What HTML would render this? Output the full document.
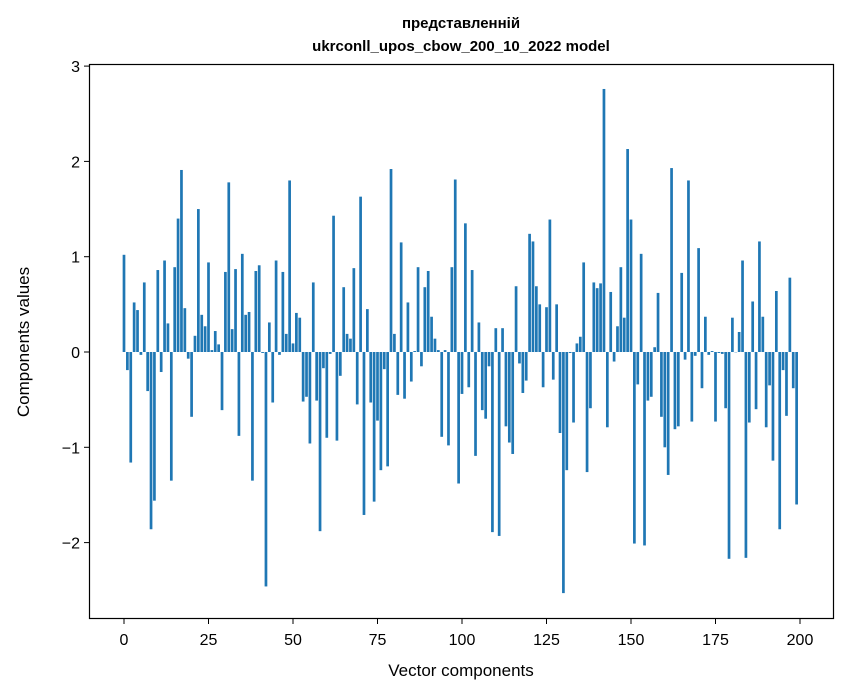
<!DOCTYPE html>
<html><head><meta charset="utf-8"><style>
html,body{margin:0;padding:0;background:#fff;}
svg{display:block;font-family:"Liberation Sans","DejaVu Sans",sans-serif;}
</style></head><body>
<svg id="chart" width="847" height="696" viewBox="0 0 847 696" xmlns="http://www.w3.org/2000/svg">
<rect width="847" height="696" fill="#fff"/>
<text x="461" y="28" text-anchor="middle" font-size="15" font-weight="bold">представленній</text>
<text x="461" y="51" text-anchor="middle" font-size="15" font-weight="bold">ukrconll_upos_cbow_200_10_2022 model</text>
<g id="bars"></g>
<rect x="89.5" y="64.5" width="744" height="554" fill="none" stroke="#000" stroke-width="1.2"/>
<g id="xticks"></g>
<g id="yticks"></g>
<text x="461" y="676" text-anchor="middle" font-size="17">Vector components</text>
<text x="0" y="0" transform="translate(29,342) rotate(-90)" text-anchor="middle" font-size="17">Components values</text>
</svg>
<script>
const values = [1.02,-0.19,-1.16,0.52,0.44,-0.03,0.73,-0.41,-1.86,-1.56,
0.86,-0.21,0.96,0.30,-1.35,0.89,1.40,1.91,0.46,-0.07,
-0.68,0.17,1.50,0.39,0.27,0.94,0.02,0.22,0.08,-0.61,
0.84,1.78,0.24,0.87,-0.88,1.03,0.39,0.42,-1.35,0.85,
0.91,-0.01,-2.46,0.31,-0.53,0.96,-0.03,0.84,0.19,1.80,
0.09,0.41,0.36,-0.52,-0.47,-0.96,0.73,-0.51,-1.88,-0.17,
-0.90,-0.02,1.43,-0.93,-0.25,0.68,0.19,0.14,0.88,-0.55,
1.63,-1.71,0.45,-0.53,-1.57,-0.72,-1.24,-0.18,-1.20,1.92,
0.19,-0.45,1.15,-0.49,0.52,-0.31,0.01,0.89,-0.15,0.68,
0.85,0.37,0.14,0.02,-0.89,0.02,-0.98,0.89,1.81,-1.38,
-0.44,1.35,-0.37,0.86,-1.09,0.31,-0.61,-0.70,-0.15,-1.89,
0.25,-1.93,0.25,-0.78,-0.95,-1.07,0.69,-0.12,-0.43,-0.30,
1.24,1.16,0.69,0.50,-0.37,0.47,1.39,-0.29,0.50,-0.85,
-2.53,-1.24,-0.01,-0.74,0.09,0.16,0.94,-1.26,-0.59,0.73,
0.67,0.72,2.76,-0.79,0.63,-0.10,0.27,0.89,0.36,2.13,
1.39,-2.01,-0.34,1.03,-2.03,-0.51,-0.47,0.05,0.62,-0.68,
-1.00,-1.29,1.93,-0.81,-0.78,0.83,-0.08,1.80,-0.73,-0.04,
1.09,-0.38,0.37,-0.03,0.01,-0.73,-0.01,-0.02,-0.59,-2.17,
0.36,0.00,0.21,0.96,-2.16,-0.74,0.53,-0.60,1.16,0.37,
-0.79,-0.35,-1.14,0.64,-1.86,-0.19,-0.67,0.78,-0.38,-1.60];
const xTicks = [0,25,50,75,100,125,150,175,200];
const yTicks = [-2,-1,0,1,2,3];

const NS = "http://www.w3.org/2000/svg";
function xs(i){ return 124 + 3.38*i; }
function ys(v){ return 352 - 95.3*v; }
const bw = 3.38*0.8;
const gb = document.getElementById('bars');
values.forEach((v,i)=>{
  const r = document.createElementNS(NS,'rect');
  
  
  const y0 = ys(0), y1 = ys(v);
  r.setAttribute('x', xs(i)-bw/2);
  r.setAttribute('y', Math.min(y0,y1));
  r.setAttribute('width', bw);
  r.setAttribute('height', Math.max(Math.abs(y1-y0),0.3));
  r.setAttribute('fill', '#1f77b4');
  gb.appendChild(r);
});
const gx = document.getElementById('xticks');
xTicks.forEach(t=>{
  const l = document.createElementNS(NS,'line');
  
  
  l.setAttribute('x1', xs(t)); l.setAttribute('x2', xs(t));
  l.setAttribute('y1', 618.5); l.setAttribute('y2', 624);
  l.setAttribute('stroke', '#000');
  gx.appendChild(l);
  const tx = document.createElementNS(NS,'text');
  
  
  tx.setAttribute('x', xs(t)); tx.setAttribute('y', 645);
  tx.setAttribute('text-anchor', 'middle'); tx.setAttribute('font-size', '16');
  tx.textContent = t;
  gx.appendChild(tx);
});
const gy = document.getElementById('yticks');
yTicks.forEach(t=>{
  const l = document.createElementNS(NS,'line');
  
  
  l.setAttribute('x1', 84); l.setAttribute('x2', 89.5);
  l.setAttribute('y1', ys(t)); l.setAttribute('y2', ys(t));
  l.setAttribute('stroke', '#000');
  gy.appendChild(l);
  const tx = document.createElementNS(NS,'text');
  
  
  tx.setAttribute('x', 80); tx.setAttribute('y', ys(t)+6);
  tx.setAttribute('text-anchor', 'end'); tx.setAttribute('font-size', '16');
  tx.textContent = t < 0 ? '\u2212' + Math.abs(t) : String(t);
  gy.appendChild(tx);
});
</script>
</body></html>
